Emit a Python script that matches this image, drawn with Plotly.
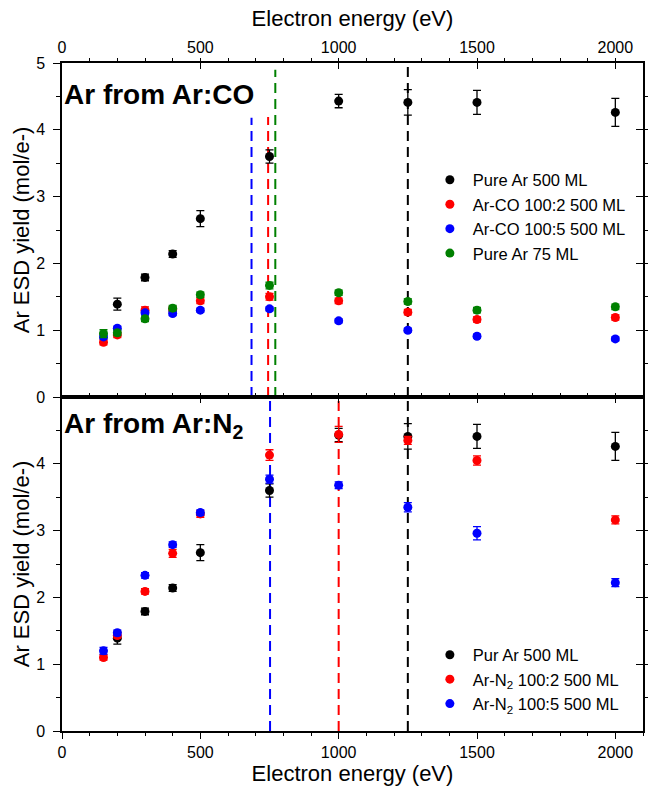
import plotly.graph_objects as go

# ---------------- data ----------------
energy = [150, 200, 300, 400, 500, 750, 1000, 1250, 1500, 2000]
energy_pure = [200, 300, 400, 500, 750, 1000, 1250, 1500, 2000]

pure_ar_500 = [1.39, 1.79, 2.14, 2.67, 3.60, 4.43, 4.41, 4.41, 4.26]
pure_ar_500_err = [0.09, 0.05, 0.05, 0.12, 0.10, 0.10, 0.19, 0.18, 0.21]

arco_2 = [0.82, 0.93, 1.30, 1.31, 1.44, 1.50, 1.44, 1.27, 1.16, 1.19]
arco_2_err = [0.04, 0.04, 0.05, 0.04, 0.04, 0.05, 0.04, 0.04, 0.04, 0.04]
arco_5 = [0.90, 1.03, 1.26, 1.25, 1.30, 1.32, 1.14, 1.00, 0.91, 0.87]
arco_5_err = [0.03, 0.03, 0.03, 0.03, 0.03, 0.03, 0.03, 0.03, 0.03, 0.03]
pure_ar_75 = [0.95, 0.96, 1.17, 1.33, 1.53, 1.67, 1.56, 1.43, 1.30, 1.35]
pure_ar_75_err = [0.06, 0.04, 0.04, 0.04, 0.04, 0.05, 0.04, 0.04, 0.04, 0.04]

arn2_2 = [1.10, 1.43, 2.09, 2.66, 3.25, 4.13, 4.44, 4.35, 4.05, 3.16]
arn2_2_err = [0.04, 0.04, 0.04, 0.06, 0.05, 0.08, 0.12, 0.06, 0.07, 0.06]
arn2_5 = [1.20, 1.47, 2.33, 2.79, 3.27, 3.77, 3.68, 3.35, 2.96, 2.22]
arn2_5_err = [0.05, 0.04, 0.04, 0.04, 0.04, 0.06, 0.05, 0.07, 0.10, 0.06]

# vertical dashed markers: (energy, top of line, colour)
top_vlines_x = [685, 745, 771, 1250]
top_vlines_top = [4.18, 4.19, 4.9, 5.0]
top_vlines_col = ["#0000ff", "#ff0000", "#008000", "#000000"]
bot_vlines_x = [752, 1000, 1250]
bot_vlines_top = [5.0, 5.0, 5.0]
bot_vlines_col = ["#0000ff", "#ff0000", "#000000"]

x_ticks = [0, 500, 1000, 1500, 2000]
y_ticks_top = [0, 1, 2, 3, 4, 5]
y_ticks_bot = [0, 1, 2, 3, 4]

FONT = "Arial, Liberation Sans, sans-serif"
fig = go.Figure()

# dashed lines (behind points)
for xv, yt, c in zip(top_vlines_x, top_vlines_top, top_vlines_col):
    fig.add_trace(go.Scatter(x=[xv, xv], y=[0, yt], mode="lines",
                             line=dict(color=c, width=2, dash="10px,6px"),
                             showlegend=False, hoverinfo="skip", xaxis="x", yaxis="y"))
for xv, yt, c in zip(bot_vlines_x, bot_vlines_top, bot_vlines_col):
    fig.add_trace(go.Scatter(x=[xv, xv], y=[0, yt], mode="lines",
                             line=dict(color=c, width=2, dash="10px,6px"),
                             showlegend=False, hoverinfo="skip", xaxis="x2", yaxis="y2"))


def pts(x, y, err, color, name, xa, ya, leg):
    fig.add_trace(go.Scatter(
        x=x, y=y, mode="markers", name=name,
        marker=dict(color=color, size=9, symbol="circle"),
        error_y=dict(type="data", array=err, visible=True, color=color,
                     thickness=1.3, width=4),
        xaxis=xa, yaxis=ya, legend=leg))


# top panel
pts(energy_pure, pure_ar_500, pure_ar_500_err, "#000000", "Pure Ar 500 ML", "x", "y", "legend")
pts(energy, arco_2, arco_2_err, "#ff0000", "Ar-CO 100:2 500 ML", "x", "y", "legend")
pts(energy, arco_5, arco_5_err, "#0000ff", "Ar-CO 100:5 500 ML", "x", "y", "legend")
pts(energy, pure_ar_75, pure_ar_75_err, "#008000", "Pure Ar 75 ML", "x", "y", "legend")
# bottom panel
pts(energy_pure, pure_ar_500, pure_ar_500_err, "#000000", "Pur Ar 500 ML", "x2", "y2", "legend2")
pts(energy, arn2_2, arn2_2_err, "#ff0000", "Ar-N<sub>2</sub> 100:2 500 ML", "x2", "y2", "legend2")
pts(energy, arn2_5, arn2_5_err, "#0000ff", "Ar-N<sub>2</sub> 100:5 500 ML", "x2", "y2", "legend2")

# invisible traces to activate overlay axes
fig.add_trace(go.Scatter(x=[None], y=[None], xaxis="x", yaxis="y3", showlegend=False, hoverinfo="skip"))
fig.add_trace(go.Scatter(x=[None], y=[None], xaxis="x2", yaxis="y4", showlegend=False, hoverinfo="skip"))
fig.add_trace(go.Scatter(x=[None], y=[None], xaxis="x3", yaxis="y2", showlegend=False, hoverinfo="skip"))

tickfont = dict(family=FONT, size=16, color="black")
titlefont = dict(family=FONT, size=22, color="black")

common_x = dict(range=[0, 2100], tickvals=x_ticks, showgrid=False, zeroline=False,
                showline=True, linecolor="black", linewidth=1.5, automargin=False,
                tickcolor="black", ticklen=6, tickwidth=1.2, tickfont=tickfont,
                minor=dict(dtick=100, ticklen=3, tickcolor="black", tickwidth=1.2, showgrid=False))
common_y = dict(range=[0, 5], showgrid=False, zeroline=False, automargin=False,
                showline=True, linecolor="black", linewidth=1.5,
                tickcolor="black", ticklen=7, tickwidth=1.2, tickfont=tickfont,
                minor=dict(dtick=0.5, ticklen=4, tickcolor="black", tickwidth=1.2, showgrid=False))

legfont = dict(family=FONT, size=16.5, color="black")

fig.update_layout(
    width=651, height=795,
    margin=dict(l=62, r=8, t=63, b=64, autoexpand=False),
    paper_bgcolor="white", plot_bgcolor="white",
    font=dict(family=FONT, color="black"),
    xaxis=dict(common_x, domain=[0, 1], anchor="y", side="top", ticks="inside", mirror=True,
               ticklabelstandoff=2,
               title=dict(text="Electron energy (eV)", font=titlefont, standoff=6)),
    yaxis=dict(common_y, domain=[0.5, 1], anchor="x", ticks="outside", tickvals=y_ticks_top,
               mirror=True, ticklabelstandoff=5,
               title=dict(text="Ar ESD yield (mol/e-)", font=titlefont, standoff=0)),
    xaxis2=dict(common_x, domain=[0, 1], anchor="y2", side="bottom", ticks="outside", mirror=True,
                title=dict(text="Electron energy (eV)", font=titlefont, standoff=3)),
    yaxis2=dict(common_y, domain=[0, 0.5], anchor="x2", ticks="outside", tickvals=y_ticks_bot,
                mirror=True, ticklabelstandoff=5,
                title=dict(text="Ar ESD yield (mol/e-)", font=titlefont, standoff=0)),
    xaxis3=dict(common_x, overlaying="x2", anchor="y2", side="top", ticks="inside",
                showticklabels=False, showline=False),
    yaxis3=dict(common_y, overlaying="y", anchor="x", side="right", ticks="inside",
                tickvals=y_ticks_top, showticklabels=False, showline=False),
    yaxis4=dict(common_y, overlaying="y2", anchor="x2", side="right", ticks="inside",
                tickvals=y_ticks_top, showticklabels=False, showline=False),
    legend=dict(x=0.628, y=0.851, xanchor="left", yanchor="top", itemwidth=36,
                font=legfont, bgcolor="rgba(0,0,0,0)"),
    legend2=dict(x=0.628, y=0.140, xanchor="left", yanchor="top", itemwidth=36,
                 font=legfont, bgcolor="rgba(0,0,0,0)"),
    annotations=[
        dict(text="<b>Ar from Ar:CO</b>", x=0, y=4.53, xref="x", yref="y",
             xanchor="left", yanchor="middle", showarrow=False,
             font=dict(family=FONT, size=28, color="black")),
        dict(text="<b>Ar from Ar:N<sub>2</sub></b>", x=0, y=4.58, xref="x2", yref="y2",
             xanchor="left", yanchor="middle", showarrow=False,
             font=dict(family=FONT, size=28, color="black")),
    ],
)

fig.write_html("out.html", post_script="document.body.style.margin='0';",
               config={"displayModeBar": False})
